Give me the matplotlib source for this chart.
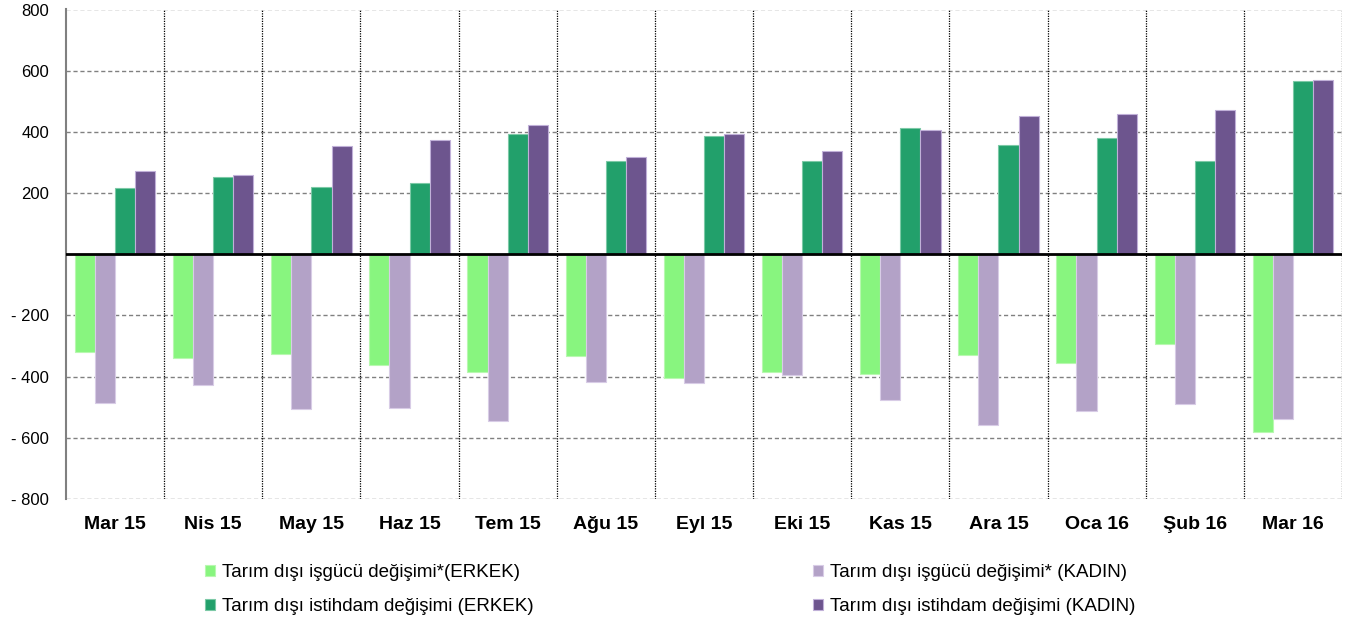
import numpy as np
import matplotlib
matplotlib.use("Agg")
import matplotlib.pyplot as plt

plt.rcParams['font.family'] = ['Liberation Sans', 'DejaVu Sans']

aylar = ["Mar 15", "Nis 15", "May 15", "Haz 15", "Tem 15", "Ağu 15", "Eyl 15",
         "Eki 15", "Kas 15", "Ara 15", "Oca 16", "Şub 16", "Mar 16"]

isgucu_erkek = [-321, -339, -326, -363, -385, -331, -403, -385, -390, -330, -357, -294, -580]
isgucu_kadin = [-485, -426, -507, -502, -544, -417, -421, -394, -477, -557, -512, -489, -540]
istihdam_erkek = [217, 254, 221, 232, 393, 306, 386, 306, 413, 356, 379, 306, 565]
istihdam_kadin = [271, 258, 353, 373, 424, 319, 393, 337, 406, 451, 460, 470, 570]

etiketler = ["Tarım dışı işgücü değişimi*(ERKEK)",
             "Tarım dışı işgücü değişimi* (KADIN)",
             "Tarım dışı istihdam değişimi (ERKEK)",
             "Tarım dışı istihdam değişimi (KADIN)"]

renkler = ["#88F57F", "#B3A2C7", "#22A06B", "#6D558E"]
kenar = ["#B8F8B0", "#D8CCE6", "#7CC9A6", "#C0B0D8"]

W, H = 1352, 624
fig = plt.figure(figsize=(W / 100, H / 100), dpi=100)
ax = fig.add_axes([66 / W, 1 - 499 / H, (1342 - 66) / W, (499 - 9.5) / H])

x = np.arange(len(aylar))
w = 0.205
seriler = [isgucu_erkek, isgucu_kadin, istihdam_erkek, istihdam_kadin]
cubuklar = []
for i, s in enumerate(seriler):
    b = ax.bar(x + (i - 1.5) * w, s, w, color=renkler[i], edgecolor=kenar[i],
               linewidth=0.8, zorder=3)
    cubuklar.append(b)

ax.set_xlim(-0.5, len(aylar) - 0.5)
ax.set_ylim(-800, 800)
yt = np.arange(-800, 801, 200)
ax.set_yticks(yt)
ax.set_yticklabels([("- %d" % -v) if v < 0 else ("" if v == 0 else "%d" % v) for v in yt],
                   fontsize=12)
ax.set_xticks(x)
ax.set_xticklabels(aylar, fontsize=14, fontweight='bold')
ax.tick_params(axis='both', length=0)
ax.tick_params(axis='x', pad=12.5)
ax.tick_params(axis='y', pad=12)

# yatay izgara
for v in yt:
    if v != 0:
        ax.axhline(v, color='#808080', linestyle=(0, (3, 2)), linewidth=1.0, zorder=1)
# dikey ayiricilar
for k in range(1, len(aylar) + 1):
    ax.axvline(k - 0.5, color='black', linestyle=(0, (1, 1)), linewidth=0.9, zorder=1)
ax.axhline(0, color='black', linewidth=2, zorder=4)

for sp in ['top', 'right', 'bottom']:
    ax.spines[sp].set_visible(False)
ax.spines['left'].set_color('#808080')
ax.spines['left'].set_linewidth(1.5)

ayar = dict(loc='upper left', frameon=False, fontsize=13.5, handlelength=0.55,
            handleheight=0.55, handletextpad=0.35, labelspacing=0.9,
            borderpad=0, borderaxespad=0)
fig.legend([cubuklar[0], cubuklar[2]], [etiketler[0], etiketler[2]],
           bbox_to_anchor=(205 / W, 1 - 564 / H), **ayar)
fig.legend([cubuklar[1], cubuklar[3]], [etiketler[1], etiketler[3]],
           bbox_to_anchor=(813 / W, 1 - 564 / H), **ayar)

fig.savefig("out.png", dpi=100)
